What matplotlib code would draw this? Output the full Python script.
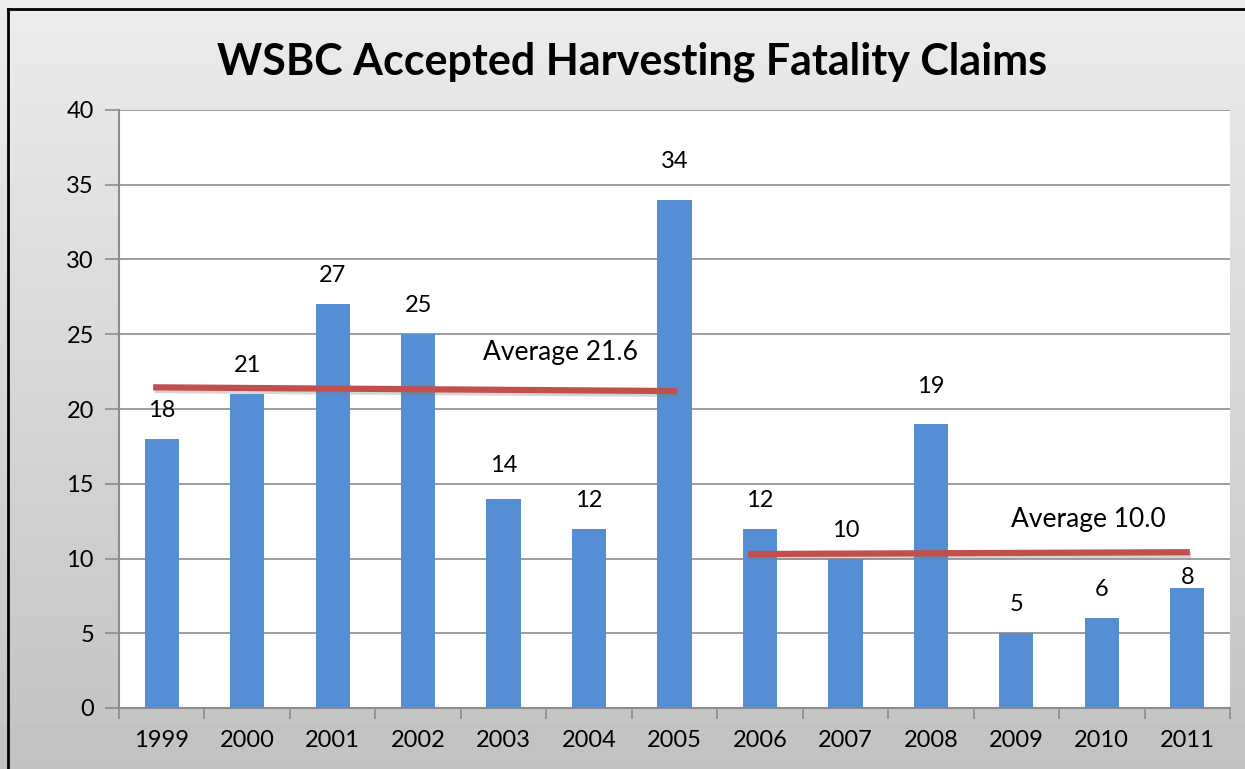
import numpy as np
import matplotlib
matplotlib.use("Agg")
import matplotlib.pyplot as plt
import matplotlib.patheffects as pe

# chart data
years = ["1999", "2000", "2001", "2002", "2003", "2004", "2005",
         "2006", "2007", "2008", "2009", "2010", "2011"]
claims = [18, 21, 27, 25, 14, 12, 34, 12, 10, 19, 5, 6, 8]
yticks = [0, 5, 10, 15, 20, 25, 30, 35, 40]

# average lines (hand drawn in the original, slightly tilted)
avg_labels = ["Average 21.6", "Average 10.0"]
avg_x = [(-0.1, 6.03), (6.86, 12.03)]
avg_y = [(21.45, 21.2), (10.3, 10.42)]
avg_text_pos = [(4.67, 23.8), (10.84, 12.6)]

# a few value labels were nudged by hand in the original
label_nudge = {"2003": 0.3, "2005": 0.65, "2008": 0.6, "2011": -1.2}

plt.rcParams['font.family'] = ['Lato', 'DejaVu Sans']

fig = plt.figure(figsize=(12.45, 7.69), dpi=100)

# gray gradient background
bg = fig.add_axes([0, 0, 1, 1], zorder=-10)
grad = np.linspace(0.925, 0.76, 256).reshape(-1, 1)
bg.imshow(grad, aspect='auto', cmap='gray', vmin=0, vmax=1,
          extent=[0, 1, 0, 1])
bg.plot([8/1245, 8/1245], [0, 1 - 9/769], color='black', lw=2)
bg.plot([8/1245, 1], [1 - 9/769, 1 - 9/769], color='black', lw=2)
bg.set_xlim(0, 1)
bg.set_ylim(0, 1)
bg.axis('off')

ax = fig.add_axes([119/1245, 1 - 708/769, (1230 - 119)/1245, (708 - 110)/769])
ax.set_facecolor('white')
x = np.arange(len(years))
bars = ax.bar(x, claims, width=0.4, color='#558ED5', zorder=3)

for xi, yr, v in zip(x, years, claims):
    ax.text(xi, v + 1.9 + label_nudge.get(yr, 0), str(v), ha='center',
            va='center', fontsize=17, zorder=5)

shadow = [pe.SimpleLineShadow(offset=(1, -2), shadow_color='#777777', alpha=0.3),
          pe.Normal()]
for (x0, x1), (y0, y1) in zip(avg_x, avg_y):
    ax.plot([x0, x1], [y0, y1], color='#C0504D', lw=4.5, zorder=4,
            solid_capstyle='butt', path_effects=shadow)
for lab, (tx, ty) in zip(avg_labels, avg_text_pos):
    ax.text(tx, ty, lab, ha='center', va='center', fontsize=19, zorder=5)

ax.set_xlim(-0.5, len(years) - 0.5)
ax.set_ylim(0, 40)
ax.set_yticks(yticks)
ax.set_yticklabels([str(t) for t in yticks], fontsize=17)
ax.yaxis.grid(True, color='#8C8C8C', lw=1.2, zorder=0)
ax.set_axisbelow(True)

ax.set_xticks(x)
ax.set_xticklabels(years, fontsize=17)
ax.tick_params(axis='x', length=0, pad=16)
ax.set_xticks(np.arange(-0.5, len(years)), minor=True)
ax.tick_params(axis='x', which='minor', length=8, width=1.2, color='#8C8C8C')
ax.tick_params(axis='y', length=10, width=1.2, color='#8C8C8C', pad=8)

for s in ['top', 'right']:
    ax.spines[s].set_visible(False)
for s in ['left', 'bottom']:
    ax.spines[s].set_color('#8C8C8C')
    ax.spines[s].set_linewidth(1.5)

fig.text(632/1245, 1 - 62/769, "WSBC Accepted Harvesting Fatality Claims",
         ha='center', va='center', fontsize=31, fontweight='bold')

fig.savefig("out.png", dpi=100)
